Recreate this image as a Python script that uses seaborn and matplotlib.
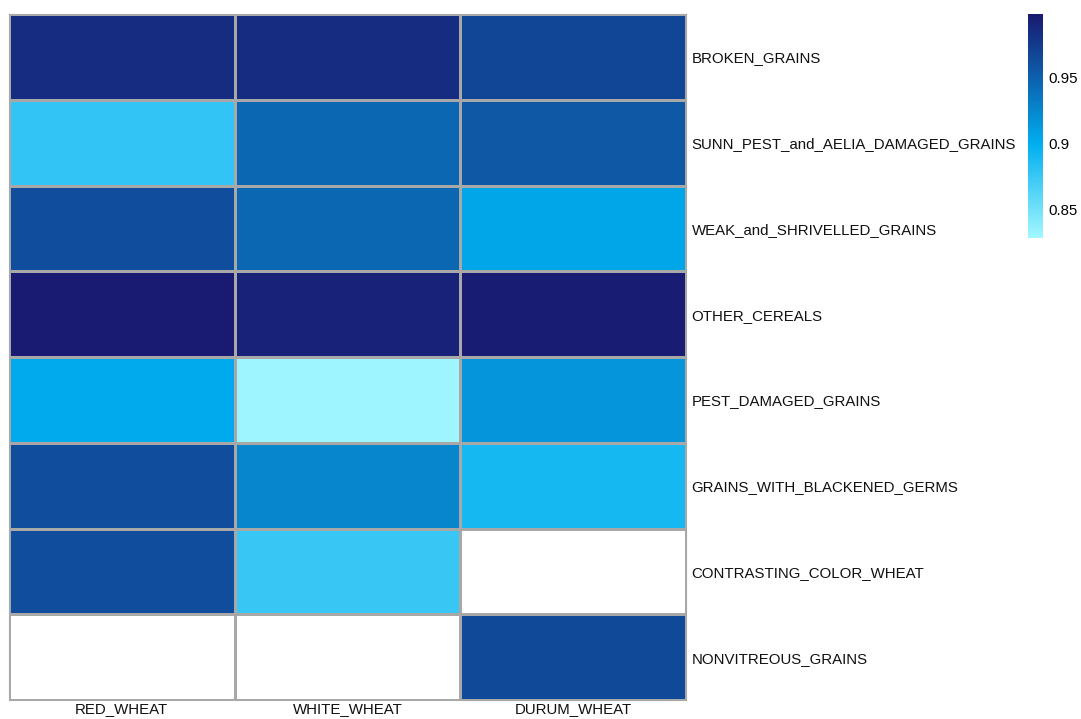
import numpy as np
import pandas as pd
import matplotlib
matplotlib.use("Agg")
import matplotlib.pyplot as plt
from matplotlib.colors import LinearSegmentedColormap
import seaborn as sns

wheat_types = ["RED_WHEAT", "WHITE_WHEAT", "DURUM_WHEAT"]
defects = [
    "BROKEN_GRAINS",
    "SUNN_PEST_and_AELIA_DAMAGED_GRAINS",
    "WEAK_and_SHRIVELLED_GRAINS",
    "OTHER_CEREALS",
    "PEST_DAMAGED_GRAINS",
    "GRAINS_WITH_BLACKENED_GERMS",
    "CONTRASTING_COLOR_WHEAT",
    "NONVITREOUS_GRAINS",
]
red_wheat = [0.985, 0.878, 0.962, 0.997, 0.902, 0.962, 0.962, np.nan]
white_wheat = [0.985, 0.945, 0.945, 0.992, 0.830, 0.925, 0.875, np.nan]
durum_wheat = [0.968, 0.955, 0.905, 0.996, 0.915, 0.890, np.nan, 0.965]

data = pd.DataFrame(
    {"RED_WHEAT": red_wheat, "WHITE_WHEAT": white_wheat, "DURUM_WHEAT": durum_wheat},
    index=defects,
)[wheat_types]

cmap = LinearSegmentedColormap.from_list(
    "blues_ramp",
    [(0.0, "#a3f7ff"), (0.42, "#00aeef"), (0.72, "#0d5fac"), (1.0, "#191970")],
)

plt.rcParams["font.family"] = ["Liberation Sans", "DejaVu Sans"]
fig = plt.figure(figsize=(10.81, 7.19), dpi=100)
ax = fig.add_axes([9 / 1081, 1 - 700 / 719, 677 / 1081, 686 / 719])
cax = fig.add_axes([1028 / 1081, 1 - 238 / 719, 15 / 1081, 224 / 719])

sns.heatmap(
    data,
    ax=ax,
    cbar_ax=cax,
    cmap=cmap,
    vmin=0.828,
    vmax=0.998,
    linewidths=0.8,
    linecolor="#a8a8a8",
    cbar_kws={"ticks": [0.85, 0.9, 0.95]},
)

for side, spine in ax.spines.items():
    spine.set_visible(True)
    spine.set_color("#a8a8a8")
    spine.set_linewidth(0.8)

ax.yaxis.tick_right()
ax.set_yticklabels(defects, rotation=0, fontsize=10.8, color="#111111")
ax.set_xticklabels(wheat_types, rotation=0, fontsize=10.8, color="#111111")
ax.tick_params(axis="y", length=0, pad=4)
ax.tick_params(axis="x", length=0, pad=1.5)
ax.set_xlabel("")
ax.set_ylabel("")

cbar = ax.collections[0].colorbar
cbar.outline.set_visible(False)
cbar.ax.tick_params(length=0, labelsize=10.8, pad=4)
cbar.ax.set_yticklabels(["0.85", "0.9", "0.95"])

fig.savefig("out.png", dpi=100)
